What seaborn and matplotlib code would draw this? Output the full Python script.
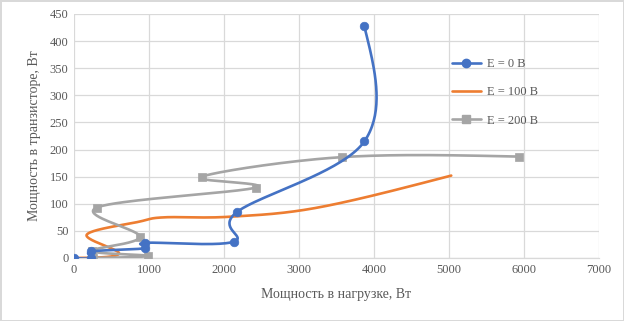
import numpy as np
import pandas as pd
import matplotlib
matplotlib.use("Agg")
import matplotlib.pyplot as plt
import seaborn as sns
from matplotlib.lines import Line2D

# ---- data ----
x_e0 = [0, 233, 233, 949, 949, 2127, 2174, 3871, 3871]
y_e0 = [0, 0, 12, 18, 28, 30, 85, 215, 427]

x_e100 = [0, 600, 170, 870, 1200, 2063, 3250, 5030]
y_e100 = [0, 8, 43, 67, 75, 76, 93, 152]

x_e200 = [250, 986, 236, 880, 302, 2427, 1702, 3569, 5938]
y_e200 = [0, 4, 13, 39, 93, 130, 150, 186, 187]

labels = ["E = 0 В", "E = 100 В", "E = 200 В"]
colors = ["#4472C4", "#ED7D31", "#A5A5A5"]
x_ticks = [0, 1000, 2000, 3000, 4000, 5000, 6000, 7000]
y_ticks = [0, 50, 100, 150, 200, 250, 300, 350, 400, 450]

XMAX, YMAX = 7000, 450
PX_W, PX_H = 525, 244


def smooth(xs, ys, n=40):
    """Excel-like smoothed line (Catmull-Rom Bezier, natural ends) through the points."""
    P = np.column_stack([np.asarray(xs, float) / XMAX * PX_W,
                         np.asarray(ys, float) / YMAX * PX_H])
    k = len(P)
    m = np.zeros_like(P)
    for i in range(1, k - 1):
        m[i] = (P[i + 1] - P[i - 1]) / 2
    if k > 2:
        m[0] = (3 * (P[1] - P[0]) - m[1]) / 2
        m[-1] = (3 * (P[-1] - P[-2]) - m[-2]) / 2
    else:
        m[0] = m[-1] = P[-1] - P[0]
    t = np.linspace(0, 1, n)[:, None]
    out = []
    for i in range(k - 1):
        p1, p2 = P[i], P[i + 1]
        c1 = p1 + m[i] / 3
        c2 = p2 - m[i + 1] / 3
        seg = ((1 - t) ** 3) * p1 + 3 * t * (1 - t) ** 2 * c1 + 3 * t ** 2 * (1 - t) * c2 + t ** 3 * p2
        out.append(seg if i == 0 else seg[1:])
    Q = np.vstack(out)
    return pd.DataFrame({"x": Q[:, 0] * XMAX / PX_W, "y": Q[:, 1] * YMAX / PX_H})


sns.set_theme(style="white")
plt.rcParams["font.family"] = ["Liberation Serif", "DejaVu Serif"]

fig = plt.figure(figsize=(6.24, 3.21), dpi=100)
fig.patch.set_facecolor("white")
fig.patch.set_edgecolor("#D9D9D9")
fig.patch.set_linewidth(1.0)
ax = fig.add_axes([74 / 624, 1 - 258 / 321, 525 / 624, 244 / 321])

series = [
    (x_e100, y_e100, colors[1], None, 2),
    (x_e200, y_e200, colors[2], "s", 3),
    (x_e0, y_e0, colors[0], "o", 4),
]
for xs, ys, col, mk, z in series:
    sm = smooth(xs, ys)
    sns.lineplot(data=sm, x="x", y="y", sort=False, estimator=None, color=col,
                 linewidth=1.9, ax=ax, zorder=z)
    if mk is not None:
        sns.scatterplot(x=xs, y=ys, marker=mk, s=38, color=col, edgecolor=col,
                        linewidth=0.5, ax=ax, zorder=z + 0.5)

ax.set_xlim(0, XMAX)
ax.set_ylim(0, YMAX)
ax.set_xticks(x_ticks)
ax.set_yticks(y_ticks)
ax.grid(True, color="#D9D9D9", linewidth=0.9)
ax.set_axisbelow(True)
for s in ["top", "right", "left"]:
    ax.spines[s].set_visible(False)
ax.spines["bottom"].set_color("#D9D9D9")
ax.spines["bottom"].set_linewidth(0.9)
ax.tick_params(axis="both", length=0, labelsize=9, labelcolor="#595959", pad=4)

ax.set_xlabel("Мощность в нагрузке, Вт", fontsize=10, color="#595959", labelpad=9)
ax.set_ylabel("Мощность в транзисторе, Вт", fontsize=10, color="#595959", labelpad=6)

handles = [
    Line2D([], [], color=colors[0], lw=1.9, marker="o", markersize=6),
    Line2D([], [], color=colors[1], lw=1.9),
    Line2D([], [], color=colors[2], lw=1.9, marker="s", markersize=6),
]
leg = ax.legend(handles, labels, loc="upper left",
                bbox_to_anchor=(452 / 624, 1 - 58 / 321), bbox_transform=fig.transFigure,
                frameon=False, fontsize=9, handlelength=2.3, handletextpad=0.5,
                labelspacing=1.3, borderpad=0, borderaxespad=0)
for txt in leg.get_texts():
    txt.set_color("#595959")

fig.savefig("out.png", dpi=100, facecolor=fig.get_facecolor(), edgecolor=fig.get_edgecolor())
